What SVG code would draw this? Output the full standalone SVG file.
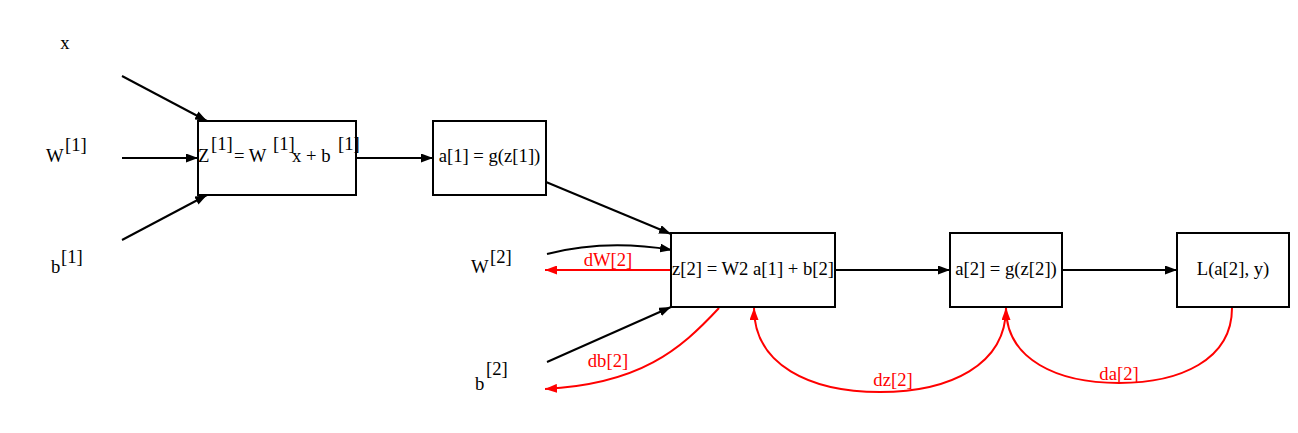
<svg xmlns="http://www.w3.org/2000/svg" width="1298" height="433" viewBox="0 0 1298 433">
<style>
text{font-family:"Liberation Serif","Times New Roman",serif;font-size:18.67px;fill:#000}
.r{fill:#f00}
.box{fill:#fff;stroke:#000;stroke-width:2}
.e{fill:none;stroke:#000;stroke-width:2}
.er{fill:none;stroke:#f00;stroke-width:2}
</style>
<defs>
<marker id="ab" viewBox="0 0 12 9" refX="12" refY="4.5" markerWidth="12" markerHeight="9" markerUnits="userSpaceOnUse" orient="auto"><path d="M0,0 L12,4.5 L0,9 z" fill="#000"/></marker>
<marker id="ar" viewBox="0 0 12 9" refX="12" refY="4.5" markerWidth="12" markerHeight="9" markerUnits="userSpaceOnUse" orient="auto"><path d="M0,0 L12,4.5 L0,9 z" fill="#f00"/></marker>
</defs>
<rect width="1298" height="433" fill="#fff"/>
<g id="connectors">
<path class="e" marker-end="url(#ab)" d="M122,76 L207,121"/>
<path class="e" marker-end="url(#ab)" d="M122,158 L198,158"/>
<path class="e" marker-end="url(#ab)" d="M122,240 L207,195"/>
<path class="e" marker-end="url(#ab)" d="M356,158 L433,158"/>
<path class="e" marker-end="url(#ab)" d="M546,182 L671,234"/>
<path class="e" marker-end="url(#ab)" d="M547,254 C590,243 630,243 672,250"/>
<path class="e" marker-end="url(#ab)" d="M547,362 L671,307"/>
<path class="e" marker-end="url(#ab)" d="M835,270 L950,270"/>
<path class="e" marker-end="url(#ab)" d="M1062,270 L1177,270"/>
<path class="er" marker-end="url(#ar)" d="M671,270 L545,270"/>
<path class="er" marker-end="url(#ar)" d="M719,308 C680,350 640,384 545,389"/>
<path class="er" marker-end="url(#ar)" d="M1006,308 C1006,365 950,392 880,392 C810,392 754,365 754,308"/>
<path class="er" marker-end="url(#ar)" d="M1232,308 C1232,360 1180,383 1119,383 C1058,383 1006,360 1006,308"/>
<text class="r" x="608" y="266" text-anchor="middle">dW[2]</text>
<text class="r" x="608" y="367" text-anchor="middle">db[2]</text>
<text class="r" x="893" y="386" text-anchor="middle">dz[2]</text>
<text class="r" x="1119" y="380" text-anchor="middle">da[2]</text>
</g>
<g id="x"><text x="65" y="49" text-anchor="middle">x</text></g>
<g id="W1"><text x="46" y="162">W<tspan x="65" y="151">[1]</tspan></text></g>
<g id="b1"><text x="51" y="273">b<tspan x="61" y="263">[1]</tspan></text></g>
<g id="z1">
<rect class="box" x="198" y="121" width="158" height="74"/>
<text x="198" y="162">Z<tspan x="211" y="150">[1]</tspan><tspan x="234" y="162">= W </tspan><tspan x="273" y="150">[1]</tspan><tspan x="292" y="162">x + b </tspan><tspan x="338" y="150">[1]</tspan></text>
</g>
<g id="a1">
<rect class="box" x="433" y="121" width="113" height="74"/>
<text x="489.5" y="162" text-anchor="middle">a[1] = g(z[1])</text>
</g>
<g id="W2"><text x="471" y="273">W<tspan x="490" y="263">[2]</tspan></text></g>
<g id="b2"><text x="475" y="390">b<tspan x="486" y="375">[2]</tspan></text></g>
<g id="z2">
<rect class="box" x="671" y="233" width="164" height="74"/>
<text x="753" y="275" text-anchor="middle">z[2] = W2 a[1] + b[2]</text>
</g>
<g id="a2">
<rect class="box" x="950" y="233" width="112" height="74"/>
<text x="1006" y="275" text-anchor="middle">a[2] = g(z[2])</text>
</g>
<g id="L">
<rect class="box" x="1177" y="233" width="112" height="74"/>
<text x="1233" y="275" text-anchor="middle">L(a[2], y)</text>
</g>
</svg>
